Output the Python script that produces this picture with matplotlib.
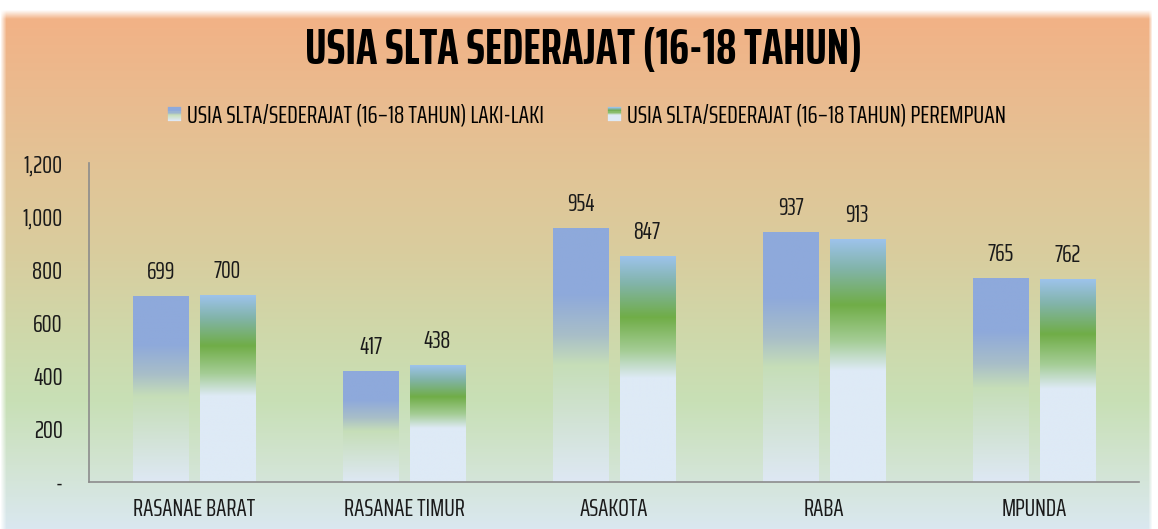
import numpy as np
import matplotlib
matplotlib.use("Agg")
import matplotlib.pyplot as plt
from matplotlib.patches import Rectangle
from matplotlib.legend_handler import HandlerBase
from matplotlib.ticker import FuncFormatter

# === DATA ===
kecamatan = ["RASANAE BARAT", "RASANAE TIMUR", "ASAKOTA", "RABA", "MPUNDA"]
laki = [699, 417, 954, 937, 765]
perempuan = [700, 438, 847, 913, 762]
judul = "USIA SLTA SEDERAJAT (16-18 TAHUN)"
label_laki = "USIA SLTA/SEDERAJAT (16\u201318 TAHUN) LAKI-LAKI"
label_perempuan = "USIA SLTA/SEDERAJAT (16\u201318 TAHUN) PEREMPUAN"

FONT = ["Saira ExtraCondensed", "DejaVu Sans"]
plt.rcParams["font.family"] = FONT

# gradient stops (0 = top of bar, 1 = bottom)
stops_laki = [(0.0, (142, 169, 219)), (0.26, (142, 169, 219)), (0.42, (168, 190, 200)),
              (0.54, (198, 222, 184)), (1.0, (222, 232, 244))]
stops_perempuan = [(0.0, (157, 195, 235)), (0.12, (130, 180, 170)), (0.27, (112, 173, 71)),
                   (0.42, (165, 205, 150)), (0.54, (222, 234, 246)), (1.0, (222, 234, 246))]
stops_bg = [(0.0, (255, 255, 255)), (0.018, (255, 255, 255)), (0.035, (242, 178, 134)),
            (0.20, (233, 188, 144)), (0.32, (226, 196, 150)), (0.48, (217, 205, 158)),
            (0.63, (207, 216, 170)), (0.76, (200, 224, 182)), (0.88, (210, 228, 210)),
            (1.0, (218, 232, 240))]


def gradiente(stops, n=256):
    pos = np.linspace(0, 1, n)
    p = [s[0] for s in stops]
    cols = np.array([s[1] for s in stops]) / 255.0
    out = np.stack([np.interp(pos, p, cols[:, k]) for k in range(3)], axis=1)
    return out


class HandlerGradiente(HandlerBase):
    def __init__(self, stops, n=13):
        super().__init__()
        self.stops = stops
        self.n = n

    def create_artists(self, legend, orig_handle, xdescent, ydescent, width, height, fontsize, trans):
        cols = gradiente(self.stops, self.n)
        lado = 9.4  # puntos (~13 px)
        x0 = -xdescent + (width - lado) / 2
        y0 = -ydescent + (height - lado) / 2
        arts = []
        for i, c in enumerate(cols):
            r = Rectangle((x0, y0 + lado - (i + 1) * lado / self.n), lado, lado / self.n,
                          facecolor=c, edgecolor=c, linewidth=0.2, transform=trans)
            arts.append(r)
        return arts


fig = plt.figure(figsize=(11.58, 5.29), dpi=100)

# === FONDO ===
bg_ax = fig.add_axes([0, 0, 1, 1], zorder=-1)
bg = gradiente(stops_bg, 529)
img = np.repeat(bg[:, None, :], 1158, axis=1)
xs = np.arange(1158)
borde = np.clip(np.minimum(xs / 6.0, (1152 - xs) / 4.0), 0, 1)[None, :, None]
img = img * borde + (1 - borde) * 1.0
bg_ax.imshow(img, aspect="auto", extent=(0, 1, 0, 1), origin="upper")
bg_ax.axis("off")

# === GRAFICA ===
ax = fig.add_axes([89 / 1158, 1 - 482 / 529, (1139 - 89) / 1158, (482 - 163) / 529])
ax.set_facecolor("none")

ancho = 0.262
desfase = 0.158
grad_l = gradiente(stops_laki)[:, None, :]
grad_p = gradiente(stops_perempuan)[:, None, :]
x = np.arange(len(kecamatan))
for i in range(len(kecamatan)):
    for val, g, dx in [(laki[i], grad_l, -desfase), (perempuan[i], grad_p, desfase)]:
        cx = x[i] + dx
        ax.imshow(g, aspect="auto", origin="upper", interpolation="bilinear",
                  extent=(cx - ancho / 2, cx + ancho / 2, 0, val), zorder=2)
        ax.annotate(f"{val}", (cx, val), xytext=(0, 9), textcoords="offset points",
                    ha="center", va="bottom", fontsize=17.5, color="#1a1a1a")

ax.set_xlim(-0.5, len(kecamatan) - 0.5)
ax.set_ylim(0, 1200)
ax.set_yticks(np.arange(0, 1201, 200))
ax.yaxis.set_major_formatter(FuncFormatter(lambda v, p: "-" if v == 0 else f"{int(v):,}"))
ax.set_xticks(x)
ax.set_xticklabels(kecamatan)
ax.tick_params(axis="both", length=0, labelsize=18, colors="#1a1a1a")
ax.tick_params(axis="y", pad=19)
ax.tick_params(axis="x", pad=11)
for s in ["top", "right"]:
    ax.spines[s].set_visible(False)
for s in ["left", "bottom"]:
    ax.spines[s].set_color("#8c8c8c")
    ax.spines[s].set_linewidth(1.2)

fig.text(0.504, 1 - 51 / 529, judul, ha="center", va="center", fontsize=36.5,
         fontweight="bold", color="black")

h1 = Rectangle((0, 0), 1, 1)
h2 = Rectangle((0, 0), 1, 1)
fig.legend([h1, h2], [label_laki, label_perempuan], loc="center",
           bbox_to_anchor=(0.507, 1 - 116 / 529), ncol=2, frameon=False,
           fontsize=18.5, handlelength=0.5, handletextpad=0.25, columnspacing=2.5,
           handler_map={h1: HandlerGradiente(stops_laki), h2: HandlerGradiente(stops_perempuan)})

fig.savefig("out.png", dpi=100)
